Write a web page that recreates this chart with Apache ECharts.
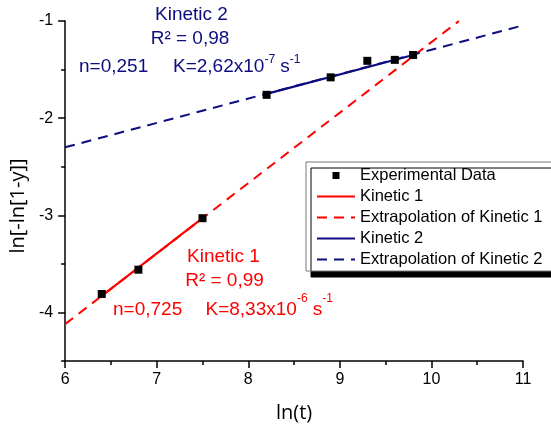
<!DOCTYPE html>
<html>
<head>
<meta charset="utf-8">
<script src="https://cdn.jsdelivr.net/npm/echarts@6/dist/echarts.min.js"></script>
<style>
  html, body { margin: 0; padding: 0; background: #fff; }
  #chart { width: 551px; height: 428px; }
</style>
</head>
<body>
<div id="chart"></div>
<script>
// experimental points
var lnT = [6.4, 6.8, 7.5, 8.2, 8.9, 9.3, 9.6, 9.8];
var lnLn = [-3.81, -3.56, -3.03, -1.76, -1.58, -1.41, -1.40, -1.35];

// fitted lines (end points)
var kinetic1X = [6.4, 7.5],  kinetic1Y = [-3.83, -3.03];
var extrap1X = [6, 10.3],    extrap1Y = [-4.12, -1.0];
var kinetic2X = [8.2, 9.8],  kinetic2Y = [-1.75, -1.35];
var extrap2X = [6, 11],      extrap2Y = [-2.30, -1.045];

var yMajor = [-4, -3, -2, -1];
var yMinor = [-4.5, -3.5, -2.5, -1.5];

var RED = '#ff0000', NAVY = '#0d0d80';
var SANS = '"Liberation Sans", Arial, sans-serif';
var TITLE_FONT = '"Open Sans", sans-serif';

function pairs(xs, ys) {
    return xs.map(function (x, i) { return [x, ys[i]]; });
}

// text with two superscripts, e.g. K=2,62x10^-7 s^-1
function supText(base, e1, unit, e2) {
    return '{m|' + base + '}{s|' + e1 + '}{m|' + unit + '}{s|' + e2 + '}';
}
// raise = bottom padding of the superscript, lifts it by raise/2
function richStyle(color, raise) {
    return {
        m: { fontSize: 19, fontFamily: SANS, lineHeight: 20, fill: color },
        s: { fontSize: 12, fontFamily: SANS, lineHeight: 12, padding: [0, 0, raise, 0], fill: color }
    };
}
function label(x, y, text, color, align) {
    return {
        type: 'text', x: x, y: y, z: 50,
        style: { text: text, fill: color, font: '19px ' + SANS, textAlign: align || 'center', textVerticalAlign: 'middle' }
    };
}

var myChart = echarts.init(document.getElementById('chart'));

var axisLine = { lineStyle: { color: '#000', width: 1.5 } };
var hideSymbol = { opacity: 0 };

myChart.setOption({
    animation: false,
    grid: { left: 63, right: 28, top: 21, bottom: 66 },
    legend: {
        orient: 'vertical',
        left: 306,
        top: 162,
        padding: [5, 12, 3, 10],
        itemWidth: 38,
        itemHeight: 14,
        itemGap: 4,
        selectedMode: false,
        backgroundColor: '#fff',
        borderColor: '#777',
        borderWidth: 1,
        borderRadius: 0,
        shadowColor: '#000',
        shadowBlur: 0,
        shadowOffsetX: 5,
        shadowOffsetY: 6,
        lineStyle: { width: 2 },
        textStyle: { fontSize: 16.5, fontFamily: SANS, color: '#000', lineHeight: 17 },
        data: [
            { name: 'Experimental Data', icon: 'path://M0,0 M3,3 h6 v6 h-6 z M12,12' },
            { name: 'Kinetic 1', itemStyle: hideSymbol },
            { name: 'Extrapolation of Kinetic 1', itemStyle: hideSymbol },
            { name: 'Kinetic 2', itemStyle: hideSymbol },
            { name: 'Extrapolation of Kinetic 2', itemStyle: hideSymbol }
        ]
    },
    xAxis: {
        type: 'value',
        min: 6,
        max: 11,
        interval: 1,
        name: 'ln(t)',
        nameLocation: 'middle',
        nameGap: 42,
        nameTextStyle: { fontSize: 20, fontFamily: TITLE_FONT, color: '#000' },
        axisLine: axisLine,
        axisTick: { length: 7, lineStyle: { color: '#000', width: 1.5 } },
        minorTick: { show: true, splitNumber: 2, length: 4, lineStyle: { color: '#000', width: 1.5 } },
        axisLabel: { fontSize: 16, fontFamily: SANS, color: '#000', margin: 11 },
        splitLine: { show: false }
    },
    yAxis: [{
        type: 'value',
        position: 'left',
        min: -4.5,
        max: -1,
        name: 'ln[-ln[1-y]]',
        nameLocation: 'middle',
        nameRotate: 90,
        nameGap: 37,
        nameTextStyle: { fontSize: 20, fontFamily: TITLE_FONT, color: '#000', padding: [0, 30, 0, 0] },
        axisLine: axisLine,
        axisTick: { customValues: yMajor, length: 7, lineStyle: { color: '#000', width: 1.5 } },
        axisLabel: { customValues: yMajor, fontSize: 16, fontFamily: SANS, color: '#000', margin: 12 },
        splitLine: { show: false }
    }, {
        type: 'value',
        position: 'left',
        offset: 0,
        min: -4.5,
        max: -1,
        axisLine: { show: false },
        axisTick: { customValues: yMinor, length: 4, lineStyle: { color: '#000', width: 1.5 } },
        axisLabel: { show: false },
        splitLine: { show: false }
    }],
    series: [{
        name: 'Extrapolation of Kinetic 1',
        type: 'line',
        symbol: 'none',
        color: RED,
        lineStyle: { color: RED, width: 2, type: [10, 7] },
        data: pairs(extrap1X, extrap1Y)
    }, {
        name: 'Extrapolation of Kinetic 2',
        type: 'line',
        symbol: 'none',
        color: NAVY,
        lineStyle: { color: NAVY, width: 2, type: [10, 7] },
        data: pairs(extrap2X, extrap2Y)
    }, {
        name: 'Kinetic 1',
        type: 'line',
        symbol: 'none',
        color: RED,
        lineStyle: { color: RED, width: 2.2 },
        data: pairs(kinetic1X, kinetic1Y)
    }, {
        name: 'Kinetic 2',
        type: 'line',
        symbol: 'none',
        color: NAVY,
        lineStyle: { color: NAVY, width: 2.2 },
        data: pairs(kinetic2X, kinetic2Y)
    }, {
        name: 'Experimental Data',
        type: 'scatter',
        symbol: 'rect',
        symbolSize: 8,
        color: '#000',
        itemStyle: { opacity: 1 },
        z: 5,
        data: pairs(lnT, lnLn)
    }],
    graphic: [
        label(191.5, 15, 'Kinetic 2', NAVY),
        label(190, 39, 'R² = 0,98', NAVY),
        label(79, 67, 'n=0,251', NAVY, 'left'),
        {
            type: 'text', x: 173, y: 67, z: 50,
            style: { text: supText('K=2,62x10', '-7', ' s', '-1'), rich: richStyle(NAVY, 15), textAlign: 'left', textVerticalAlign: 'middle' }
        },
        label(223.5, 257, 'Kinetic 1', RED),
        label(224.5, 281, 'R² = 0,99', RED),
        label(113, 310, 'n=0,725', RED, 'left'),
        {
            type: 'text', x: 205.5, y: 310, z: 50,
            style: { text: supText('K=8,33x10', '-6', ' s', '-1'), rich: richStyle(RED, 23), textAlign: 'left', textVerticalAlign: 'middle' }
        }
    ]
});
</script>
</body>
</html>
